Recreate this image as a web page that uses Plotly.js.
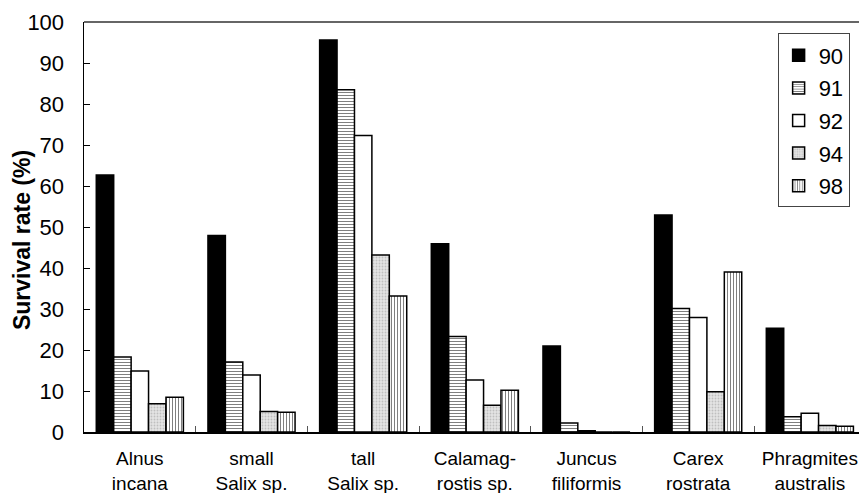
<!DOCTYPE html>
<html><head><meta charset="utf-8">
<script src="https://cdn.plot.ly/plotly-3.0.1.min.js"></script>
<style>html,body{margin:0;padding:0;background:#fff;}#chart{width:859px;height:493px;}</style>
</head><body><div id="chart"></div>
<script>
const categories = ["Alnus<br>incana","small<br>Salix sp.","tall<br>Salix sp.","Calamag-<br>rostis sp.","Juncus<br>filiformis","Carex<br>rostrata","Phragmites<br>australis"];
const seriesNames = ["90","91","92","94","98"];
const y90 = [62.7, 47.9, 95.6, 45.9, 21.0, 52.9, 25.3];
const y91 = [18.3, 17.1, 83.5, 23.3, 2.2, 30.1, 3.7];
const y92 = [14.9, 13.9, 72.3, 12.7, 0.3, 27.9, 4.6];
const y94 = [6.9, 5.0, 43.2, 6.5, 0, 9.8, 1.6];
const y98 = [8.5, 4.8, 33.2, 10.2, 0, 39.0, 1.4];
const yTicks = [0,10,20,30,40,50,60,70,80,90,100];
const yTitle = "Survival rate (%)";

const styles = [
  {color:"#000000", pattern:{shape:""}},
  {color:"#ffffff", pattern:{shape:"-", fgcolor:"#000", size:3, solidity:0.35, fillmode:"overlay"}},
  {color:"#ffffff", pattern:{shape:""}},
  {color:"#e4e4e4", pattern:{shape:".", fgcolor:"#9a9a9a", size:3, solidity:0.3, fillmode:"overlay"}},
  {color:"#ffffff", pattern:{shape:"|", fgcolor:"#000", size:3, solidity:0.35, fillmode:"overlay"}}
];
const vals = [y90,y91,y92,y94,y98];
const traces = vals.map((v,i)=>({
  type:"bar", x:categories, y:v, name:seriesNames[i], legendgroup:"g"+i,
  marker:{color:styles[i].color, pattern:styles[i].pattern, line:{color:"#000", width:1.5}},
  hoverinfo:"none"
}));
const fam = "Liberation Sans, Arial, sans-serif";
const layout = {
  width:859, height:493,
  margin:{l:84, r:0, t:22, b:61, pad:0},
  paper_bgcolor:"#fff", plot_bgcolor:"#fff",
  font:{family:fam, color:"#000"},
  barmode:"group", bargap:0.22, bargroupgap:0,
  showlegend:true,
  legend:{x:0.895, xanchor:"left", y:0.972, yanchor:"top", bgcolor:"#fff", bordercolor:"#444", borderwidth:1,
          font:{family:fam, size:22, color:"#000"}, traceorder:"grouped", tracegroupgap:1, itemwidth:30},
  xaxis:{type:"category", range:[-0.5, 6.44], showline:true, linecolor:"#000", linewidth:1.5, mirror:false,
         ticks:"inside", tickson:"boundaries", ticklen:6, tickcolor:"#555", tickwidth:1,
         ticklabelstandoff:9,
         tickfont:{family:fam, size:19, color:"#000"}, showgrid:false, zeroline:false, fixedrange:true},
  yaxis:{range:[0,100], tickvals:yTicks, ticktext:yTicks.map(String), showline:true, linecolor:"#000", linewidth:1.5,
         ticks:"inside", ticklen:6, tickcolor:"#000", tickwidth:1, showgrid:false, zeroline:false,
         ticklabelstandoff:14,
         tickfont:{family:fam, size:22, color:"#000"}},
  annotations:[{text:"<b>"+yTitle+"</b>", textangle:-90, xref:"paper", yref:"paper", x:-0.08, y:0.468,
                xanchor:"center", yanchor:"middle", showarrow:false, font:{family:fam, size:23, color:"#000"}}],
  shapes:[{type:"line", xref:"paper", yref:"paper", x0:0, x1:1, y0:1, y1:1, line:{color:"#333", width:1.5}}]
};
Plotly.newPlot("chart", traces, layout, {displayModeBar:false, staticPlot:true});
</script></body></html>
